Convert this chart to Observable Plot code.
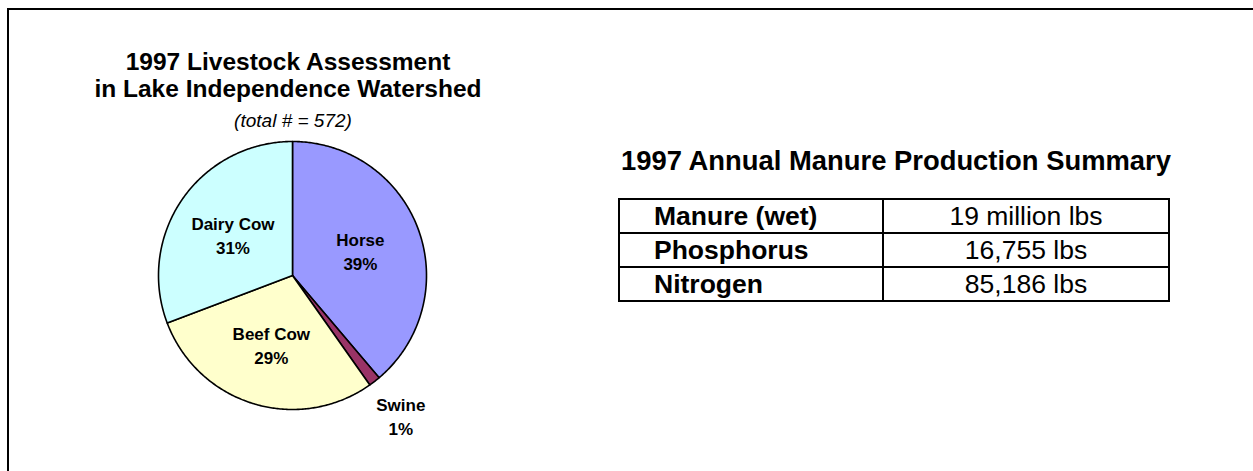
<!DOCTYPE html>
<html>
<head>
<meta charset="utf-8">
<script src="https://cdn.jsdelivr.net/npm/d3@7"></script>
<script src="https://cdn.jsdelivr.net/npm/@observablehq/plot@0.6"></script>
<style>
  html, body { margin: 0; padding: 0; background: #fff; }
  body { width: 1253px; height: 471px; overflow: hidden; position: relative; font-family: "Liberation Sans", Arial, sans-serif; color: #000; }
  #frame { position: absolute; left: 7px; top: 8px; width: 1300px; height: 520px; border: 2px solid #000; box-sizing: border-box; }
  #pieTitle { position: absolute; left: 86px; width: 404px; top: 48px; text-align: center; font-weight: bold; font-size: 24.5px; line-height: 27px; }
  #pieSub { position: absolute; left: 88px; width: 410px; top: 110px; text-align: center; font-style: italic; font-size: 19px; line-height: 22px; }
  #pie { position: absolute; left: 122px; top: 105px; }
  #tblTitle { position: absolute; left: 600px; width: 592px; top: 146px; text-align: center; font-weight: bold; font-size: 27.4px; line-height: 30px; }
  #tbl { position: absolute; left: 618px; top: 198px; border-collapse: collapse; }
  #tbl td { border: 2px solid #000; height: 32px; padding: 0; font-size: 26.5px; line-height: 30px; }
  #tbl td.k { width: 228px; padding-left: 34px; font-weight: bold; text-align: left; }
  #tbl td.v { width: 284px; text-align: center; }
</style>
</head>
<body>
<div id="frame"></div>
<div id="pieTitle">1997 Livestock Assessment<br>in Lake Independence Watershed</div>
<div id="pieSub">(total # = 572)</div>
<div id="pie"></div>
<div id="tblTitle">1997 Annual Manure Production Summary</div>
<table id="tbl"></table>
<script>
// ---- data ----
const categories = ["Horse", "Swine", "Beef Cow", "Dairy Cow"];
const counts = [222, 8, 166, 176];          // head of livestock (total 572)
const sliceColors = ["#9999FF", "#993366", "#FFFFCC", "#CCFFFF"];
const tableLabels = ["Manure (wet)", "Phosphorus", "Nitrogen"];
const tableValues = ["19 million lbs", "16,755 lbs", "85,186 lbs"];

// ---- pie geometry (data space, unit radius) ----
const total = d3.sum(counts);
const arcs = d3.pie().sort(null).value(d => d.count).startAngle(0).endAngle(2 * Math.PI)(
  categories.map((name, i) => ({name, count: counts[i]}))
);
const pts = [];
for (const a of arcs) {
  const n = Math.max(2, Math.ceil((a.endAngle - a.startAngle) / 0.01));
  pts.push({name: a.data.name, x: 0, y: 0});
  for (let k = 0; k <= n; k++) {
    const t = a.startAngle + (a.endAngle - a.startAngle) * k / n;
    pts.push({name: a.data.name, x: Math.sin(t), y: Math.cos(t)});
  }
}
const labels = arcs.map(a => {
  const mid = (a.startAngle + a.endAngle) / 2;
  const share = a.data.count / total;
  const r = share < 0.05 ? 1.32 : 0.54;
  return {
    x: r * Math.sin(mid), y: r * Math.cos(mid),
    text: a.data.name + "\n" + Math.round(share * 100) + "%"
  };
});

const R = 134, half = 170;
const dom = [-half / R, half / R];
const pie = Plot.plot({
  width: 2 * half, height: 2 * half, margin: 0,
  x: {domain: dom, axis: null},
  y: {domain: dom, axis: null},
  color: {domain: categories, range: sliceColors},
  style: {background: "transparent", overflow: "visible"},
  marks: [
    Plot.line(pts, {x: "x", y: "y", z: "name", fill: "name", stroke: "#000", strokeWidth: 1.6, curve: "linear-closed"}),
    Plot.text(labels, {x: "x", y: "y", text: "text", fontSize: 17, fontWeight: "bold", lineHeight: 1.4, fill: "#000", fontFamily: "Liberation Sans, Arial, sans-serif"})
  ]
});
document.getElementById("pie").appendChild(pie);

// ---- table ----
const tbl = document.getElementById("tbl");
tableLabels.forEach((k, i) => {
  const tr = document.createElement("tr");
  const a = document.createElement("td"); a.className = "k"; a.textContent = k;
  const b = document.createElement("td"); b.className = "v"; b.textContent = tableValues[i];
  tr.appendChild(a); tr.appendChild(b); tbl.appendChild(tr);
});
</script>
</body>
</html>
